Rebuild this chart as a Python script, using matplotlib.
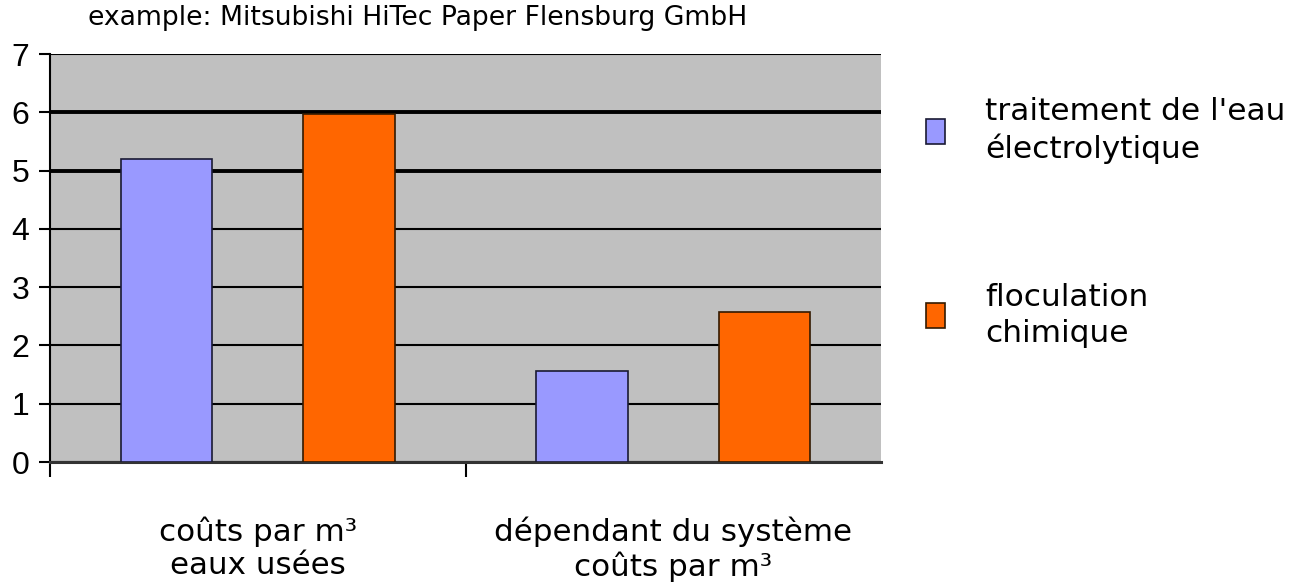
import matplotlib
matplotlib.use("Agg")
import matplotlib.pyplot as plt
from matplotlib.patches import Patch
import numpy as np

categories = ["coûts par m³\neaux usées", "dépendant du système\ncoûts par m³"]
series_names = ["traitement de l'eau\nélectrolytique", "floculation\nchimique"]
electro = [5.2, 1.56]
floc = [5.97, 2.57]
yticks = [0, 1, 2, 3, 4, 5, 6, 7]
title = "example: Mitsubishi HiTec Paper Flensburg GmbH"

blue = "#9999FF"
orange = "#FF6600"
bg = "#C0C0C0"

fig = plt.figure(figsize=(12.96, 5.82), dpi=100)
W, H = 1296, 582
ax = fig.add_axes([50 / W, (H - 462) / H, 831 / W, 408 / H])
ax.set_facecolor(bg)

x = np.arange(len(categories))
off = 0.22
bw = 0.22
ax.bar(x - off, electro, bw, color=blue, edgecolor="#1a1a33", linewidth=1.2, zorder=3)
ax.bar(x + off, floc, bw, color=orange, edgecolor="#331a00", linewidth=1.2, zorder=3)

ax.set_xlim(-0.5, len(categories) - 0.5)
ax.set_ylim(0, 7)
ax.set_yticks(yticks)
ax.set_yticklabels([str(v) for v in yticks], fontfamily="Liberation Sans", fontsize=23)
ax.tick_params(axis="y", length=8, width=1.5, pad=7, direction="out")

# major x ticks at category boundaries, labels on minor ticks at centers
ax.set_xticks([-0.5, 0.5])
ax.set_xticklabels([])
ax.tick_params(axis="x", which="major", length=11, width=1.5, direction="out")
ax.set_xticks(x, minor=True)
ax.set_xticklabels(categories, minor=True, fontfamily="DejaVu Sans", fontsize=22.3,
                   linespacing=1.2)
ax.tick_params(axis="x", which="minor", length=0, pad=39)

ax.yaxis.grid(True, color="black", linewidth=1.5, zorder=1)
ax.set_axisbelow(True)
for val, gl in zip(yticks, ax.get_ygridlines()):
    if val in (5, 6):
        gl.set_linewidth(2.8)

for s in ["top", "right"]:
    ax.spines[s].set_visible(False)
ax.spines["left"].set_linewidth(1.5)
ax.spines["bottom"].set_linewidth(2.2)
ax.spines["bottom"].set_color("#333333")

fig.text(88 / W, 1 - 18 / H, title, fontfamily="DejaVu Sans", fontsize=19.2,
         ha="left", va="center")

handles = [Patch(facecolor=blue, edgecolor="#1a1a33", linewidth=1.2),
           Patch(facecolor=orange, edgecolor="#331a00", linewidth=1.2)]
leg = fig.legend(handles, series_names, loc="upper left",
                 bbox_to_anchor=(926 / W, 1 - 97 / H), frameon=False,
                 prop={"family": "DejaVu Sans", "size": 22.5},
                 handlelength=0.6, handleheight=0.85, handletextpad=1.3,
                 labelspacing=3.8, borderpad=0, borderaxespad=0)
for t in leg.get_texts():
    t.set_linespacing(1.3)

fig.savefig("out.png", dpi=100)
